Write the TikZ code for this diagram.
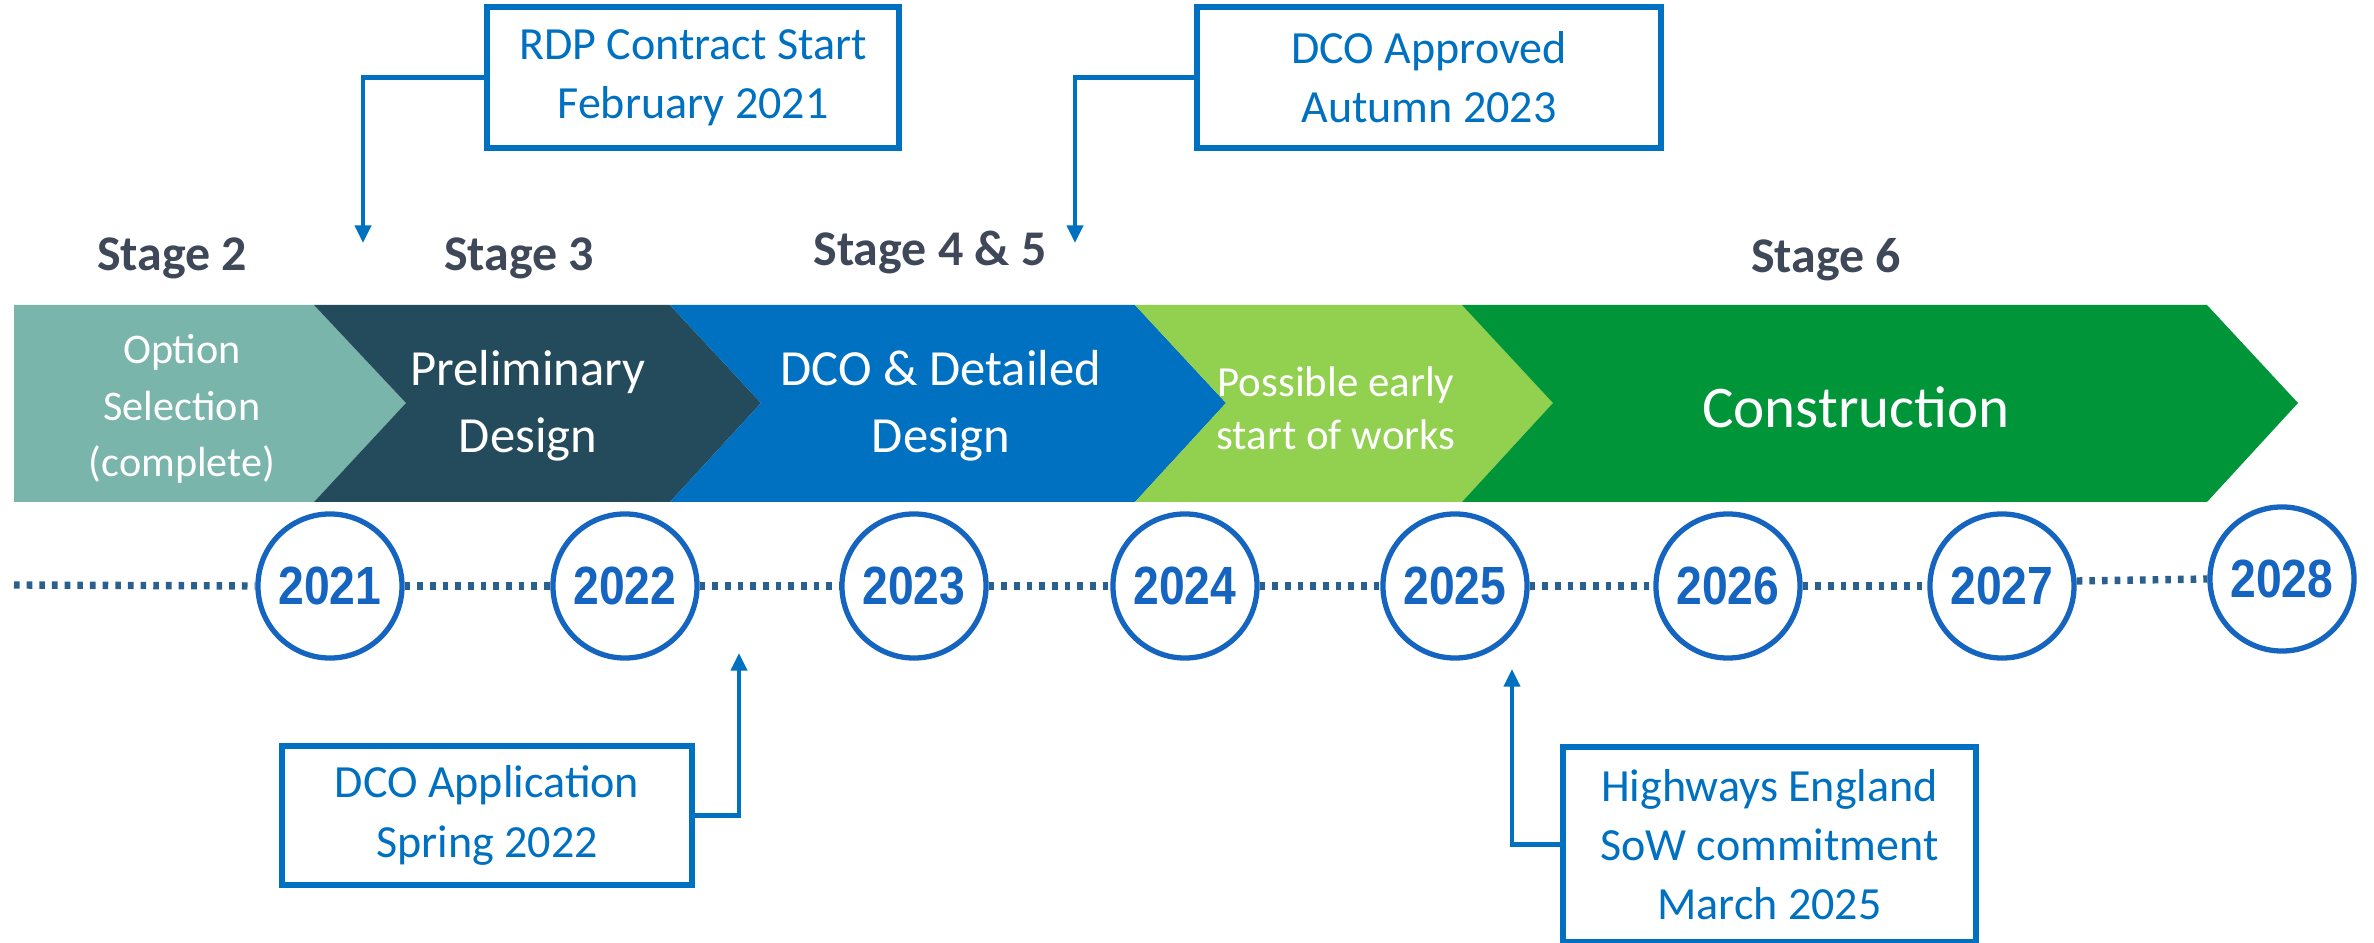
\documentclass[tikz,border=0pt]{standalone}
\usepackage{fontspec}
\setmainfont{Carlito}
\newfontfamily\yearfont{Liberation Sans}
\usetikzlibrary{arrows.meta}
\definecolor{segteal}{HTML}{7AB5AB}
\definecolor{segdark}{HTML}{244B5C}
\definecolor{segblue}{HTML}{0070C0}
\definecolor{seglgreen}{HTML}{92D050}
\definecolor{segdgreen}{HTML}{009539}
\definecolor{stagegray}{HTML}{3F4858}
\definecolor{lblue}{HTML}{0070C0}
\definecolor{yearblue}{HTML}{1565C0}
\definecolor{dotblue}{HTML}{2B5F8E}
\newcommand{\yeartxt}[1]{\scalebox{0.86}[1]{#1}}
\tikzset{
  labelbox/.style={draw=lblue, line width=1.7pt, text=lblue, inner sep=0pt, align=center,
    font=\fontsize{13.1}{16.8}\selectfont},
  callout/.style={draw=lblue, line width=1.25pt, -{Triangle[length=5pt,width=4.5pt]}},
  stagehead/.style={text=stagegray, font=\fontsize{14.2}{17}\selectfont\bfseries, inner sep=0pt},
  bartext/.style={text=white, align=center, inner sep=0pt},
  yearc/.style={circle, draw=yearblue, fill=white, line width=1.5pt, minimum size=1.44cm, inner sep=0pt,
    text=yearblue, font=\yearfont\fontsize{15.3}{15.3}\selectfont\bfseries},
  dotline/.style={draw=dotblue, line width=2.1pt, dash pattern=on 1.6pt off 2pt}
}
\begin{document}
\begin{tikzpicture}[x=0.01cm,y=-0.01cm]
\useasboundingbox (0,0) rectangle (2374,943);
% chevron bar
\fill[segteal] (14,305) -- (314,305) -- (406,403) -- (314,502) -- (14,502) -- cycle;
\fill[segdark] (314,305) -- (670,305) -- (761,403) -- (670,502) -- (314,502) -- (406,403) -- cycle;
\fill[segblue] (670,305) -- (1135,305) -- (1226,403) -- (1135,502) -- (670,502) -- (761,403) -- cycle;
\fill[seglgreen] (1135,305) -- (1462,305) -- (1553,403) -- (1462,502) -- (1135,502) -- (1226,403) -- cycle;
\fill[segdgreen] (1462,305) -- (2207,305) -- (2298,403) -- (2207,502) -- (1462,502) -- (1553,403) -- cycle;
% bar texts
\node[bartext, font=\fontsize{12}{16}\selectfont] (t1) at (182,409) {Option\\Selection\\(complete)};
\node[bartext, font=\fontsize{14.4}{19}\selectfont] (t2) at (528,406) {Preliminary\\Design};
\node[bartext, font=\fontsize{14.4}{19}\selectfont] (t3) at (941,406) {DCO \& Detailed\\Design};
\node[bartext, font=\fontsize{12.2}{15}\selectfont] (t4) at (1336,408) {Possible early\\start of works};
\node[bartext, font=\fontsize{16.8}{20}\selectfont] (t5) at (1856,407) {Construction};
% stage headers
\node[stagehead] (s2) at (172,258) {Stage 2};
\node[stagehead] (s3) at (519,258) {Stage 3};
\node[stagehead] (s45) at (930,252) {Stage 4 \& 5};
\node[stagehead] (s6) at (1826,260) {Stage 6};
% timeline
\coordinate (tstart) at (14,585);
\node[yearc] (y2021) at (330,586) {\yeartxt{2021}};
\node[yearc] (y2022) at (625,586) {\yeartxt{2022}};
\node[yearc] (y2023) at (914,586) {\yeartxt{2023}};
\node[yearc] (y2024) at (1185,586) {\yeartxt{2024}};
\node[yearc] (y2025) at (1455,586) {\yeartxt{2025}};
\node[yearc] (y2026) at (1728,586) {\yeartxt{2026}};
\node[yearc] (y2027) at (2002,586) {\yeartxt{2027}};
\node[yearc] (y2028) at (2282,579) {\yeartxt{2028}};
\path[dotline] (tstart) -- (y2021.west);
\path[dotline] (y2021.east) -- (y2022.west);
\path[dotline] (y2022.east) -- (y2023.west);
\path[dotline] (y2023.east) -- (y2024.west);
\path[dotline] (y2024.east) -- (y2025.west);
\path[dotline] (y2025.east) -- (y2026.west);
\path[dotline] (y2026.east) -- (y2027.west);
\path[dotline] ([yshift=0.05cm]y2027.east) -- (y2028.west);
% label boxes
\node[labelbox, minimum width=4.12cm, minimum height=1.41cm] (rdp) at (693,77.5) {RDP Contract Start\\February 2021};
\node[labelbox, minimum width=4.64cm, minimum height=1.41cm] (dcoa) at (1429,77.5) {DCO Approved\\Autumn 2023};
\node[labelbox, minimum width=4.10cm, minimum height=1.39cm] (app) at (487,815.5) {DCO Application\\Spring 2022};
\node[labelbox, minimum width=4.13cm, minimum height=1.95cm] (he) at (1769.5,844.5) {Highways England\\SoW commitment\\March 2025};
\coordinate (p1) at (363,243);
\coordinate (p2) at (1075,243);
\coordinate (p3) at (739,653);
\coordinate (p4) at (1512,669);
\draw[callout] (rdp.west) -| (p1);
\draw[callout] (dcoa.west) -| (p2);
\draw[callout] (app.east) -| (p3);
\draw[callout] (he.west) -| (p4);
\end{tikzpicture}
\end{document}
